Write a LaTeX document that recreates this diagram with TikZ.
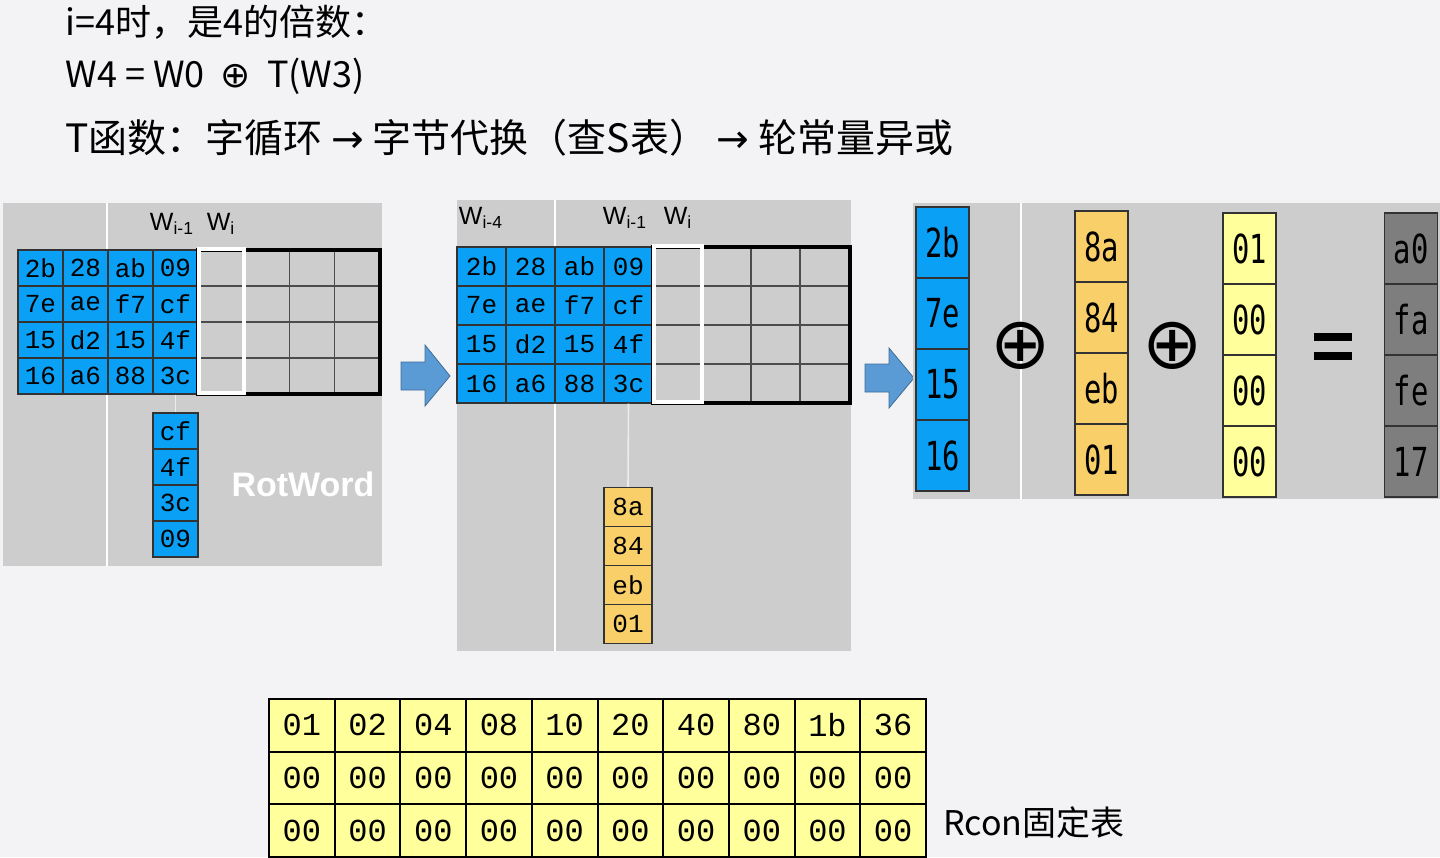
\documentclass[tikz,border=0pt]{standalone}
\usepackage{fontspec}
\setmainfont{Noto Sans CJK SC}
\newfontfamily\cellmono{Liberation Mono}
\newfontfamily\narrowmono[FakeStretch=0.72]{DejaVu Sans Mono}
\newfontfamily\headsans{Liberation Sans}
\definecolor{bgc}{HTML}{F3F3F5}
\definecolor{panel}{HTML}{CDCDCD}
\definecolor{cblue}{HTML}{0AA0F5}
\definecolor{corange}{HTML}{F9CF6A}
\definecolor{cyellow}{HTML}{FFFF9C}
\definecolor{cdark}{HTML}{7E7E7E}
\definecolor{arrowblue}{HTML}{5B9BD5}
\tikzset{
  cell/.style={draw=black!80, line width=0.6pt, minimum width=#1, inner sep=0pt, font=\cellmono\fontsize{13}{13}\selectfont},
  bigcell/.style={draw=black!80, line width=0.8pt, minimum width=26.5pt, minimum height=35.5pt, inner sep=0pt, font=\narrowmono\fontsize{20}{20}\selectfont},
  blockarrow/.style={fill=arrowblue, draw=arrowblue!70!black, line width=0.4pt},
  hdr/.style={font=\headsans\fontsize{12.5}{12.5}\selectfont, inner sep=0pt},
  ttl/.style={anchor=west, inner sep=0pt, font=\fontsize{18}{18}\selectfont}
}
\begin{document}
\begin{tikzpicture}[x=0.5pt,y=-0.5pt]
\fill[bgc] (0,0) rectangle (1440,857);
\useasboundingbox (0,0) rectangle (1440,857);
% titles
\node[ttl] (t1) at (65,22) {i=4时，是4的倍数：};
\node[ttl] (t2) at (65,76) {W4 = W0 \ {\fontspec{DejaVu Sans}⊕}\ \ T(W3)};
\node[ttl, font=\fontsize{19.5}{19.5}\selectfont] (t3) at (65,138) {T函数：字循环 {\fontspec{DejaVu Sans}→} 字节代换（查S表）\ {\fontspec{DejaVu Sans}→} 轮常量异或};
% ---------- left panel
\fill[panel] (3,203) rectangle (382,566);
\draw[white,line width=1pt] (107,203) -- (107,566);
\node[hdr] (l1) at (172,224) {W\textsubscript{i-1}};
\node[hdr] (l2) at (221,224) {W\textsubscript{i}};
\foreach \r [count=\i from 0] in {{2b,28,ab,09},{7e,ae,f7,cf},{15,d2,15,4f},{16,a6,88,3c}}{
  \foreach \v [count=\j from 0] in \r {
    \node[cell=22.5pt, minimum height=18pt, fill=cblue] (la\i\j) at ({40.5+45*\j},{268+36*\i}) {\v};
  }
  \foreach \j in {0,...,3}{
    \node[cell=22.75pt, minimum height=18pt, draw=black!70] (lg\i\j) at ({221+45.5*\j},{268+36*\i}) {};
  }
}
\draw[black,line width=1.6pt] (198,250) rectangle (380,394);
\draw[white,line width=1.8pt] (199,249) rectangle (244,393);
\foreach \v [count=\i from 0] in {cf,4f,3c,09}{
  \node[cell=22.5pt, minimum height=18pt, fill=cblue] (lr\i) at (175.5,{431+36*\i}) {\v};
}
\draw[white!85!gray,line width=0.8pt] (la33.south) -- (lr0.north);
\node[white,font=\headsans\bfseries\fontsize{17}{17}\selectfont,inner sep=0pt] (rot) at (303,484) {RotWord};
\draw[blockarrow] (401,362) -- (425,362) -- (425,345) -- (450,376) -- (425,406) -- (425,390) -- (401,390) -- cycle;
% ---------- middle panel
\fill[panel] (457,200) rectangle (851,651);
\draw[white,line width=1pt] (555,200) -- (555,651);
\node[hdr] (m0) at (481,218) {W\textsubscript{i-4}};
\node[hdr] (m1) at (625,218) {W\textsubscript{i-1}};
\node[hdr] (m2) at (678,218) {W\textsubscript{i}};
\foreach \r [count=\i from 0] in {{2b,28,ab,09},{7e,ae,f7,cf},{15,d2,15,4f},{16,a6,88,3c}}{
  \foreach \v [count=\j from 0] in \r {
    \node[cell=24.5pt, minimum height=19.5pt, fill=cblue] (ma\i\j) at ({481.5+49*\j},{266.5+39*\i}) {\v};
  }
  \foreach \j in {0,...,3}{
    \node[cell=24.5pt, minimum height=19.5pt, draw=black!70] (mg\i\j) at ({677.5+49*\j},{266.5+39*\i}) {};
  }
}
\draw[black,line width=1.6pt] (653,247) rectangle (850,403);
\draw[white,line width=1.8pt] (654,246) rectangle (702,402);
\foreach \v [count=\i from 0] in {8a,84,eb,01}{
  \node[cell=24pt, minimum height=19.5pt, fill=corange] (mo\i) at (628,{507+39*\i}) {\v};
}
\draw[white!85!gray,line width=0.8pt] (ma33.south) -- (mo0.north);
\draw[blockarrow] (865,364) -- (889,364) -- (889,348) -- (914,378) -- (889,408) -- (889,392) -- (865,392) -- cycle;
% ---------- right panel
\fill[panel] (913,203) rectangle (1440,499);
\draw[white,line width=1pt] (1021,203) -- (1021,499);
\foreach \v [count=\i from 0] in {2b,7e,15,16}{
  \node[bigcell, fill=cblue] (rb\i) at (942.5,{242.5+71*\i}) {\v};
}
\foreach \v [count=\i from 0] in {8a,84,eb,01}{
  \node[bigcell, fill=corange] (ro\i) at (1101.5,{246.5+71*\i}) {\v};
}
\foreach \v [count=\i from 0] in {01,00,00,00}{
  \node[bigcell, fill=cyellow] (ry\i) at (1249.5,{248.5+71*\i}) {\v};
}
\foreach \v [count=\i from 0] in {a0,fa,fe,17}{
  \node[bigcell, fill=cdark] (rd\i) at (1411,{248.5+71*\i}) {\v};
}
\node[font=\fontspec{DejaVu Sans}\fontsize{36}{36}\selectfont, inner sep=0pt] (x1) at (1021,346) {⊕};
\node[font=\fontspec{DejaVu Sans}\fontsize{36}{36}\selectfont, inner sep=0pt] (x2) at (1173,346) {⊕};
\fill[black] (1314,333) rectangle (1352,341);
\fill[black] (1314,352) rectangle (1352,360);
% ---------- Rcon table
\foreach \r [count=\i from 0] in {{01,02,04,08,10,20,40,80,1b,36},{00,00,00,00,00,00,00,00,00,00},{00,00,00,00,00,00,00,00,00,00}}{
  \foreach \v [count=\j from 0] in \r {
    \node[cell=32.85pt, minimum height=26.3pt, fill=cyellow, draw=black, line width=1pt, font=\cellmono\fontsize{16}{16}\selectfont] (rc\i\j) at ({301.85+65.7*\j},{725.3+52.6*\i}) {\v};
  }
}
\node[anchor=west, inner sep=0pt, font=\fontsize{17}{17}\selectfont] (rcl) at (943,822) {Rcon固定表};
\end{tikzpicture}
\end{document}
